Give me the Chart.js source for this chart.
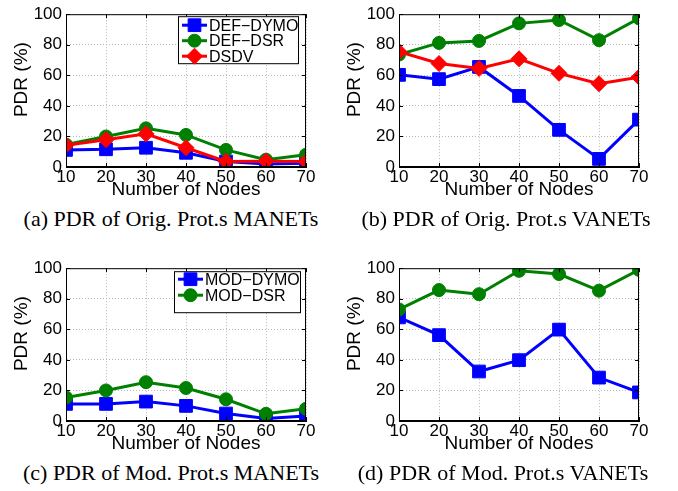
<!DOCTYPE html>
<html>
<head>
<meta charset="utf-8">
<script src="https://cdn.jsdelivr.net/npm/chart.js@4.4.1/dist/chart.umd.min.js"></script>
<style>
body { margin: 0; background: #fff; width: 678px; height: 491px; overflow: hidden; position: relative; }
.panel { position: absolute; width: 340px; height: 200px; }
.cap { position: absolute; font-family: "Liberation Serif", "Times New Roman", serif; font-size: 22px;
       line-height: 1; white-space: nowrap; transform: translateX(-50%); color: #000; }
</style>
</head>
<body>
<div class="panel" style="left:0;top:0"><canvas id="cA" width="340" height="200"></canvas></div>
<div class="panel" style="left:333px;top:0"><canvas id="cB" width="340" height="200"></canvas></div>
<div class="panel" style="left:0;top:254px"><canvas id="cC" width="340" height="200"></canvas></div>
<div class="panel" style="left:333px;top:254px"><canvas id="cD" width="340" height="200"></canvas></div>
<div class="cap" style="left:171px;top:208px">(a) PDR of Orig. Prot.s MANETs</div>
<div class="cap" style="left:506px;top:208px">(b) PDR of Orig. Prot.s VANETs</div>
<div class="cap" style="left:171px;top:462px">(c) PDR of Mod. Prot.s MANETs</div>
<div class="cap" style="left:503px;top:462px">(d) PDR of Mod. Prot.s VANETs</div>
<script>
const nodes = [10, 20, 30, 40, 50, 60, 70];
const yTicks = [0, 20, 40, 60, 80, 100];

// (a) original protocols, MANETs
const defDymoManet = [11.2, 11.6, 12.6, 9.3, 3.6, 2.0, 2.5];
const defDsrManet  = [14.7, 20.0, 25.3, 21.0, 11.2, 4.8, 8.0];
const dsdvManet    = [14.3, 17.9, 21.7, 12.6, 3.6, 3.8, 3.6];

// (b) original protocols, VANETs
const defDymoVanet = [60.3, 57.5, 65.5, 46.5, 24.3, 5.3, 31.0];
const defDsrVanet  = [73.6, 81.2, 82.5, 94.0, 96.2, 83.0, 97.3];
const dsdvVanet    = [75.5, 67.7, 64.5, 70.8, 61.3, 54.5, 58.8];

// (c) modified protocols, MANETs
const modDymoManet = [11.2, 11.2, 12.7, 9.9, 4.9, 1.7, 3.2];
const modDsrManet  = [15.4, 20.0, 25.4, 21.6, 14.2, 4.7, 8.0];

// (d) modified protocols, VANETs
const modDymoVanet = [67.8, 56.2, 32.4, 39.8, 59.8, 28.4, 18.7];
const modDsrVanet  = [73.0, 85.7, 83.0, 98.3, 96.2, 85.3, 98.9];

const FONT = '"Liberation Sans", Arial, Helvetica, sans-serif';

const look = {
  dymo: { color: "#0000ff", pointStyle: "rect", radius: 9 },
  dsr:  { color: "#008000", pointStyle: "circle", radius: 6.5 },
  dsdv: { color: "#ff0000", pointStyle: "rectRot", radius: 8 }
};

function series(label, values, st, order) {
  return {
    label,
    data: nodes.map((n, i) => ({ x: n, y: values[i] })),
    borderColor: st.color,
    backgroundColor: st.color,
    pointBackgroundColor: st.color,
    pointBorderColor: st.color,
    pointStyle: st.pointStyle,
    pointRadius: st.radius,
    pointBorderWidth: 1,
    borderWidth: 3,
    tension: 0,
    fill: false,
    order
  };
}

function marker(ctx, style, r, x, y) {
  if (Chart.helpers && Chart.helpers.drawPoint) {
    Chart.helpers.drawPoint(ctx, { pointStyle: style, radius: r, borderWidth: 1, rotation: 0 }, x, y);
    return;
  }
  ctx.beginPath();
  if (style === "circle") ctx.arc(x, y, r, 0, Math.PI * 2);
  else if (style === "rect") { const s = r * Math.SQRT1_2; ctx.rect(x - s, y - s, 2 * s, 2 * s); }
  else { ctx.moveTo(x - r, y); ctx.lineTo(x, y - r); ctx.lineTo(x + r, y); ctx.lineTo(x, y + r); ctx.closePath(); }
  ctx.fill(); ctx.stroke();
}

// box, inward ticks, y label and matlab-ish legend
const frame = {
  id: "frame",
  afterDraw(chart, args, opts) {
    const { ctx, chartArea: a, scales: { x, y } } = chart;
    ctx.save();
    ctx.strokeStyle = "#000";
    ctx.lineWidth = 1;
    ctx.strokeRect(a.left + 0.5, a.top + 0.5, a.right - a.left - 1, a.bottom - a.top - 1);
    ctx.beginPath();
    x.ticks.forEach(t => {
      const px = Math.round(x.getPixelForValue(t.value)) + 0.5;
      ctx.moveTo(px, a.bottom); ctx.lineTo(px, a.bottom - 4);
      ctx.moveTo(px, a.top); ctx.lineTo(px, a.top + 4);
    });
    y.ticks.forEach(t => {
      const py = Math.round(y.getPixelForValue(t.value)) + 0.5;
      ctx.moveTo(a.left, py); ctx.lineTo(a.left + 4, py);
      ctx.moveTo(a.right, py); ctx.lineTo(a.right - 4, py);
    });
    ctx.stroke();

    ctx.save();
    ctx.translate(22, (a.top + a.bottom) / 2 - 11);
    ctx.rotate(-Math.PI / 2);
    ctx.fillStyle = "#000";
    ctx.font = "19px " + FONT;
    ctx.textAlign = "center";
    ctx.textBaseline = "middle";
    ctx.fillText("PDR (%)", 0, 0);
    ctx.restore();

    const lg = opts.legend;
    if (lg) {
      const bx = a.right - lg.right - lg.width, by = a.top + lg.top;
      ctx.fillStyle = "#fff";
      ctx.fillRect(bx, by, lg.width, lg.height);
      ctx.strokeStyle = "#000";
      ctx.lineWidth = 1;
      ctx.strokeRect(bx + 0.5, by + 0.5, lg.width, lg.height);
      chart.data.datasets.forEach((ds, i) => {
        const cy = by + lg.first + i * lg.step;
        ctx.strokeStyle = ds.borderColor;
        ctx.lineWidth = 3;
        ctx.beginPath(); ctx.moveTo(bx + 4, cy); ctx.lineTo(bx + 29, cy); ctx.stroke();
        ctx.fillStyle = ds.borderColor;
        ctx.lineWidth = 1;
        marker(ctx, ds.pointStyle, ds.pointRadius, bx + 16.5, cy);
        ctx.fillStyle = "#000";
        ctx.font = "16px " + FONT;
        ctx.textAlign = "left";
        ctx.textBaseline = "middle";
        ctx.fillText(ds.label, bx + 31, cy + 1);
      });
    }
    ctx.restore();
  }
};

function makeChart(id, datasets, legend) {
  return new Chart(document.getElementById(id), {
    type: "line",
    data: { datasets },
    options: {
      responsive: false,
      animation: false,
      layout: { padding: { top: 8, right: 34, left: 0, bottom: 0 } },
      plugins: { legend: { display: false }, tooltip: { enabled: false }, frame: { legend } },
      scales: {
        x: {
          type: "linear",
          min: nodes[0], max: nodes[nodes.length - 1],
          afterBuildTicks: s => { s.ticks = nodes.map(v => ({ value: v })); },
          afterFit: s => { s.height = 33; },
          grid: { color: "#b8b8b8", drawTicks: false },
          border: { display: true, color: "#000", dash: [1, 2] },
          ticks: { color: "#000", font: { family: FONT, size: 17 }, padding: 0, maxRotation: 0, autoSkip: false },
          title: { display: true, text: "Number of Nodes", color: "#000", font: { family: FONT, size: 19 }, padding: { top: 0, bottom: -1 } }
        },
        y: {
          min: yTicks[0], max: yTicks[yTicks.length - 1],
          afterBuildTicks: s => { s.ticks = yTicks.map(v => ({ value: v })); },
          afterFit: s => { s.width = 66; },
          grid: { color: "#b8b8b8", drawTicks: false },
          border: { display: true, color: "#000", dash: [1, 2] },
          ticks: { color: "#000", font: { family: FONT, size: 17 }, padding: 4 }
        }
      }
    },
    plugins: [frame]
  });
}

makeChart("cA", [
  series("DEF\u2212DYMO", defDymoManet, look.dymo, 2),
  series("DEF\u2212DSR", defDsrManet, look.dsr, 1),
  series("DSDV", dsdvManet, look.dsdv, 0)
], { right: 8, top: 2, width: 120, height: 47, first: 9, step: 15.5 });

makeChart("cB", [
  series("DEF\u2212DYMO", defDymoVanet, look.dymo, 2),
  series("DEF\u2212DSR", defDsrVanet, look.dsr, 1),
  series("DSDV", dsdvVanet, look.dsdv, 0)
], null);

makeChart("cC", [
  series("MOD\u2212DYMO", modDymoManet, look.dymo, 1),
  series("MOD\u2212DSR", modDsrManet, look.dsr, 0)
], { right: 6, top: 3, width: 126, height: 41, first: 8, step: 16 });

makeChart("cD", [
  series("MOD\u2212DYMO", modDymoVanet, look.dymo, 1),
  series("MOD\u2212DSR", modDsrVanet, look.dsr, 0)
], null);
</script>
</body>
</html>
